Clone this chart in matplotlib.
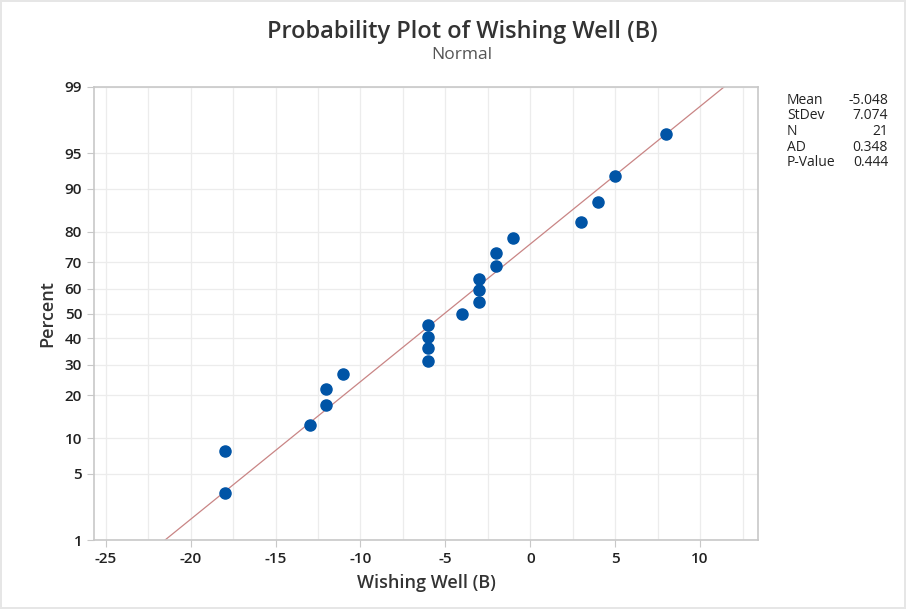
from statistics import NormalDist

import numpy as np
import matplotlib
matplotlib.use("Agg")
import matplotlib.pyplot as plt

plt.rcParams['font.family'] = ['Open Sans', 'DejaVu Sans']
plt.rcParams['axes.unicode_minus'] = False

# sorted sample values
wishing_well = [-18, -18, -13, -12, -12, -11, -6, -6, -6, -6, -4,
                -3, -3, -3, -2, -2, -1, 3, 4, 5, 8]
# median-rank plotting positions (percent)
percent = [3.27, 7.94, 12.62, 17.29, 21.96, 26.64, 31.31, 35.98, 40.65, 45.33, 50.00,
           54.67, 59.35, 64.02, 68.69, 73.36, 78.04, 82.71, 87.38, 92.06, 96.73]

mean = -5.048
stdev = 7.074
n = 21
ad = 0.348
p_value = 0.444

y_ticks = [1, 5, 10, 20, 30, 40, 50, 60, 70, 80, 90, 95, 99]
x_ticks = [-25, -20, -15, -10, -5, 0, 5, 10]

nd = NormalDist()
_ppf = np.vectorize(lambda v: nd.inv_cdf(v / 100.0), otypes=[float])
_cdf = np.vectorize(lambda v: nd.cdf(v) * 100.0, otypes=[float])


def fwd(p):
    p = np.clip(np.asarray(p, dtype=float), 1e-6, 100 - 1e-6)
    return _ppf(p)


def inv(z):
    return _cdf(np.asarray(z, dtype=float))


fig = plt.figure(figsize=(9.06, 6.09), dpi=100)
fig.patch.set_edgecolor('#e6e6e6')
fig.patch.set_linewidth(1.5)
ax = fig.add_axes([94 / 906, 1 - 540 / 609, (758 - 94) / 906, (540 - 87) / 609])
ax.set_yscale('function', functions=(fwd, inv))

# fitted line
zz = np.array([nd.inv_cdf(0.01), nd.inv_cdf(0.99)])
ax.plot(mean + stdev * zz, [1, 99], color='#c98585', lw=0.9, zorder=2)
ax.plot(wishing_well, percent, 'o', color='#0054a6', ms=8, zorder=3)

ax.set_xlim(-25.69, 13.41)
ax.set_ylim(1, 99)
ax.set_xticks(x_ticks)
ax.set_xticks(np.arange(-22.5, 13, 5), minor=True)
ax.set_yticks(y_ticks)
ax.set_yticklabels([str(t) for t in y_ticks])
ax.yaxis.set_minor_locator(matplotlib.ticker.NullLocator())
ax.grid(True, which='both', color='#ececec', lw=0.9)
ax.set_axisbelow(True)
ax.tick_params(axis='x', which='minor', length=0)
ax.tick_params(which='major', length=5, color='#c8c8c8', labelsize=11, labelcolor='#222222')
for lab in ax.get_xticklabels() + ax.get_yticklabels():
    lab.set_fontweight('semibold')
for s in ax.spines.values():
    s.set_color('#c8c8c8')
    s.set_linewidth(1.2)

ax.set_xlabel('Wishing Well (B)', fontsize=13, fontweight='semibold', color='#333333', labelpad=6)
ax.set_ylabel('Percent', fontsize=13, fontweight='semibold', color='#333333', labelpad=6)

fig.text(462 / 906, 1 - 32 / 609, 'Probability Plot of Wishing Well (B)', ha='center', va='center',
         fontsize=17, fontweight='semibold', color='#333333')
fig.text(462 / 906, 1 - 55 / 609, 'Normal', ha='center', va='center', fontsize=12.5, color='#555555')

labels = ['Mean', 'StDev', 'N', 'AD', 'P-Value']
values = [f'{mean:.3f}', f'{stdev:.3f}', str(n), f'{ad:.3f}', f'{p_value:.3f}']
for i, (lb, vl) in enumerate(zip(labels, values)):
    y = 1 - (100 + i * 15.7) / 609
    fig.text(787 / 906, y, lb, ha='left', va='center', fontsize=10, color='#222222')
    fig.text(888 / 906, y, vl, ha='right', va='center', fontsize=10, color='#222222')

fig.savefig('out.png', dpi=100)
